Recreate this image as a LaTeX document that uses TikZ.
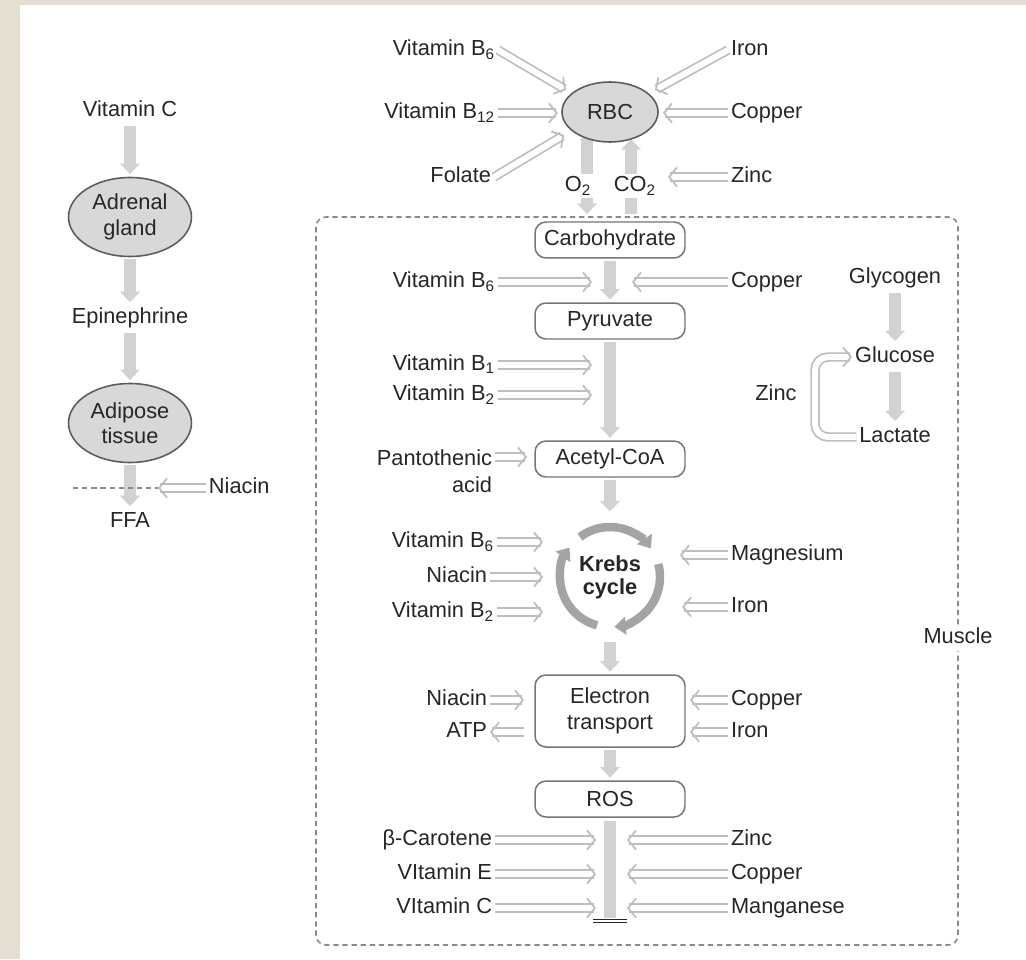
\documentclass[tikz,border=0pt]{standalone}
\usepackage{fontspec}
\setmainfont{Liberation Sans}
\usetikzlibrary{arrows.meta,positioning,shapes.geometric}

\definecolor{paper}{HTML}{E4DED3}
\definecolor{ink}{HTML}{262626}
\definecolor{flowgray}{HTML}{D2D2D2}
\definecolor{feedgray}{HTML}{BEBEBE}
\definecolor{organfill}{HTML}{D8D8D8}
\definecolor{organedge}{HTML}{5C5C5C}
\definecolor{boxedge}{HTML}{757575}
\definecolor{cyclegray}{HTML}{A4A4A4}
\definecolor{dashgray}{HTML}{8A8A8A}

\begin{document}
\begin{tikzpicture}[x=0.02cm,y=-0.02cm,
	every node/.style={font=\fontsize{12.4}{14.5}\selectfont, text=ink},
	tag/.style={inner sep=1.5pt, text height=9pt, text depth=2.5pt},
	organ/.style={ellipse, draw=organedge, line width=0.9pt, fill=organfill, align=center, inner sep=0pt, minimum width=2.46cm, minimum height=1.58cm},
	stage/.style={rectangle, rounded corners=0.22cm, draw=boxedge, line width=0.85pt, fill=white, align=center, minimum width=3cm, minimum height=0.72cm},
	flow/.style={draw=flowgray, line width=6.5pt, -{Triangle[width=11pt,length=6pt]}, shorten >=1.5pt, shorten <=1pt},
	feed/.style={draw=feedgray, line width=1pt, double=white, double distance=3.4pt, -{Straight Barb[length=4.5pt,width=11pt,line width=1pt]}},
	cyc/.style={draw=cyclegray, line width=4.8pt, -{Triangle[width=10pt,length=6.5pt]}},
	musclebox/.style={draw=dashgray, line width=0.9pt, dash pattern=on 3pt off 2.2pt, rounded corners=0.2cm}]

	% page
	\fill[paper] (0,0) rectangle (1026,959);
	\fill[white] (20,5) rectangle (1026,959);
	\useasboundingbox (0,0) rectangle (1026,959);

	% adrenal side
	\node	[tag]				(vitC)		at (130,111)	{Vitamin C};
	\node	[organ]				(adrenal)	at (130,217)	{Adrenal\\gland};
	\node	[tag]				(epine)		at (130,318)	{Epinephrine};
	\node	[organ]				(adipose)	at (130,423)	{Adipose\\tissue};
	\node	[tag]				(ffa)		at (130,522)	{FFA};
	\node	[tag, anchor=west]	(niacA)		at (206,488)	{Niacin};
	\coordinate	(dashA)	at (73,488);
	\coordinate	(cutA)	at (158,488);

	\path
		(vitC)		edge	[flow]	(adrenal)
		(adrenal)	edge	[flow]	(epine)
		(epine)		edge	[flow]	(adipose)
		(adipose)	edge	[flow]	(ffa)
	;
	\draw[dashgray, line width=0.9pt, dash pattern=on 3pt off 2.2pt] (dashA) -- (cutA);
	\draw[feed] (niacA) -- (cutA);

	% muscle frame
	\draw[musclebox] (316,217) rectangle (958,945);
	\node	[tag, fill=white]	(muscle)	at (958,638)	{Muscle};

	% blood
	\coordinate	(o2top)		at (587,138);
	\coordinate	(o2end)		at (587,214);
	\coordinate	(co2top)	at (631,139);
	\coordinate	(co2end)	at (631,214);
	\draw[flow, shorten >=0pt, shorten <=0pt] (o2top) -- (o2end);
	\draw[flow, shorten >=0pt, shorten <=0pt] (co2end) -- (co2top);
	\node	[tag, fill=white, inner sep=1pt]	(o2)	at (578,186)	{O\textsubscript{2}};
	\node	[tag, fill=white, inner sep=1pt]	(co2)	at (635,186)	{CO\textsubscript{2}};

	\node	[organ, minimum width=1.92cm, minimum height=1.2cm]	(rbc)	at (610,112)	{RBC};
	\node	[tag, anchor=east]	(b6R)	at (498,50)		{Vitamin B\textsubscript{6}};
	\node	[tag, anchor=east]	(b12R)	at (498,113)	{Vitamin B\textsubscript{12}};
	\node	[tag, anchor=east]	(folR)	at (494,177)	{Folate};
	\node	[tag, anchor=west]	(ironR)	at (728,50)		{Iron};
	\node	[tag, anchor=west]	(cuR)	at (728,113)	{Copper};
	\node	[tag, anchor=west]	(znR)	at (728,177)	{Zinc};
	\coordinate	(inB6)		at (566,90);
	\coordinate	(inB12)		at (558,113);
	\coordinate	(inFol)		at (564,135);
	\coordinate	(inIron)	at (655,90);
	\coordinate	(inCu)		at (663,113);
	\coordinate	(inZn)		at (668,177);
	\draw[feed] (b6R.east)	-- (inB6);
	\draw[feed] (b12R.east)	-- (inB12);
	\draw[feed] (folR.east)	-- (inFol);
	\draw[feed] (ironR.west)	-- (inIron);
	\draw[feed] (cuR.west)	-- (inCu);
	\draw[feed] (znR.west)	-- (inZn);

	% energy chain
	\node	[stage]	(carb)	at (610,240)	{Carbohydrate};
	\node	[stage]	(pyr)	at (610,321)	{Pyruvate};
	\node	[stage]	(acoa)	at (610,459)	{Acetyl-CoA};
	\node	[circle, minimum size=2.5cm, inner sep=0pt, align=center, font=\fontsize{12.4}{13}\selectfont\bfseries]	(krebs)	at (610,577)	{Krebs\\cycle};
	\node	[stage, minimum height=1.44cm]	(etc)	at (610,711)	{Electron\\transport};
	\node	[stage]	(ros)	at (610,799)	{ROS};
	\coordinate	(rosend)	at (610,918);
	\coordinate	(stopL)		at (593,921);
	\coordinate	(stopR)		at (627,921);

	\path
		(carb)	edge	[flow]	(pyr)
		(pyr)	edge	[flow]	(acoa)
		(acoa)	edge	[flow]	(krebs)
		(krebs)	edge	[flow]	(etc)
		(etc)	edge	[flow]	(ros)
	;
	\draw[flowgray, line width=6.5pt, shorten <=2pt] (ros) -- (rosend);
	\draw[ink, line width=0.6pt, double=white, double distance=1.6pt] (stopL) -- (stopR);

	\draw[cyc] ([shift={(127:1cm)}]krebs.center) arc[start angle=127, end angle=35, radius=1cm];
	\draw[cyc] ([shift={(15:1cm)}]krebs.center) arc[start angle=15, end angle=-85, radius=1cm];
	\draw[cyc] ([shift={(-105:1cm)}]krebs.center) arc[start angle=-105, end angle=-216, radius=1cm];

	% carbohydrate to pyruvate
	\node	[tag, anchor=east]	(b6C)	at (498,282)	{Vitamin B\textsubscript{6}};
	\node	[tag, anchor=west]	(cuC)	at (728,282)	{Copper};
	\coordinate	(inB6C)	at (592,282);
	\coordinate	(inCuC)	at (632,282);
	\draw[feed] (b6C.east) -- (inB6C);
	\draw[feed] (cuC.west) -- (inCuC);

	% pyruvate to acetyl-CoA
	\node	[tag, anchor=east]	(b1P)	at (498,365)	{Vitamin B\textsubscript{1}};
	\node	[tag, anchor=east]	(b2P)	at (498,395)	{Vitamin B\textsubscript{2}};
	\coordinate	(inB1P)	at (592,365);
	\coordinate	(inB2P)	at (592,395);
	\draw[feed] (b1P.east) -- (inB1P);
	\draw[feed] (b2P.east) -- (inB2P);

	\node	[anchor=east, align=right, inner sep=1.5pt]	(panto)	at (495,471)	{Pantothenic\\[1pt]acid};
	\coordinate	(inPanto)	at (527,457);
	\draw[feed] (panto.east |- inPanto) -- (inPanto);

	% krebs cycle
	\node	[tag, anchor=east]	(b6K)	at (497,542)	{Vitamin B\textsubscript{6}};
	\node	[tag, anchor=east]	(niaK)	at (490,577)	{Niacin};
	\node	[tag, anchor=east]	(b2K)	at (497,612)	{Vitamin B\textsubscript{2}};
	\node	[tag, anchor=west]	(mgK)	at (728,555)	{Magnesium};
	\node	[tag, anchor=west]	(feK)	at (728,607)	{Iron};
	\coordinate	(inB6K)	at (543,542);
	\coordinate	(inNiaK)	at (543,577);
	\coordinate	(inB2K)	at (543,612);
	\coordinate	(inMgK)	at (680,555);
	\coordinate	(inFeK)	at (682,607);
	\draw[feed] (b6K.east)	-- (inB6K);
	\draw[feed] (niaK.east)	-- (inNiaK);
	\draw[feed] (b2K.east)	-- (inB2K);
	\draw[feed] (mgK.west)	-- (inMgK);
	\draw[feed] (feK.west)	-- (inFeK);

	% electron transport
	\node	[tag, anchor=east]	(niaE)	at (490,700)	{Niacin};
	\node	[tag, anchor=east]	(atpE)	at (490,732)	{ATP};
	\node	[tag, anchor=west]	(cuE)	at (728,700)	{Copper};
	\node	[tag, anchor=west]	(feE)	at (728,732)	{Iron};
	\coordinate	(inNiaE)	at (524,700);
	\coordinate	(outATP)	at (524,732);
	\coordinate	(inCuE)		at (690,700);
	\coordinate	(inFeE)		at (690,732);
	\draw[feed] (niaE.east)	-- (inNiaE);
	\draw[feed] (outATP)	-- (atpE.east);
	\draw[feed] (cuE.west)	-- (inCuE);
	\draw[feed] (feE.west)	-- (inFeE);

	% antioxidants
	\node	[tag, anchor=east]	(caroS)	at (495,840)	{β-Carotene};
	\node	[tag, anchor=east]	(vitES)	at (495,874)	{VItamin E};
	\node	[tag, anchor=east]	(vitCS)	at (495,908)	{VItamin C};
	\node	[tag, anchor=west]	(znS)	at (728,840)	{Zinc};
	\node	[tag, anchor=west]	(cuS)	at (728,874)	{Copper};
	\node	[tag, anchor=west]	(mnS)	at (728,908)	{Manganese};
	\coordinate	(inCaro)	at (596,840);
	\coordinate	(inVitE)	at (596,874);
	\coordinate	(inVitC)	at (596,908);
	\coordinate	(inZnS)		at (627,840);
	\coordinate	(inCuS)		at (627,874);
	\coordinate	(inMnS)		at (627,908);
	\draw[feed] (caroS.east)	-- (inCaro);
	\draw[feed] (vitES.east)	-- (inVitE);
	\draw[feed] (vitCS.east)	-- (inVitC);
	\draw[feed] (znS.west)	-- (inZnS);
	\draw[feed] (cuS.west)	-- (inCuS);
	\draw[feed] (mnS.west)	-- (inMnS);

	% glycogen
	\node	[tag]	(glyc)	at (895,278)	{Glycogen};
	\node	[tag]	(gluc)	at (895,357)	{Glucose};
	\node	[tag]	(lac)	at (895,437)	{Lactate};
	\node	[tag]	(znG)	at (776,395)	{Zinc};
	\coordinate	(loopx)	at (815,400);
	\path
		(glyc)	edge	[flow]	(gluc)
		(gluc)	edge	[flow]	(lac)
	;
	\draw[feed, rounded corners=0.26cm] (lac.west) -- (lac.west -| loopx) |- (gluc.west);
\end{tikzpicture}
\end{document}
